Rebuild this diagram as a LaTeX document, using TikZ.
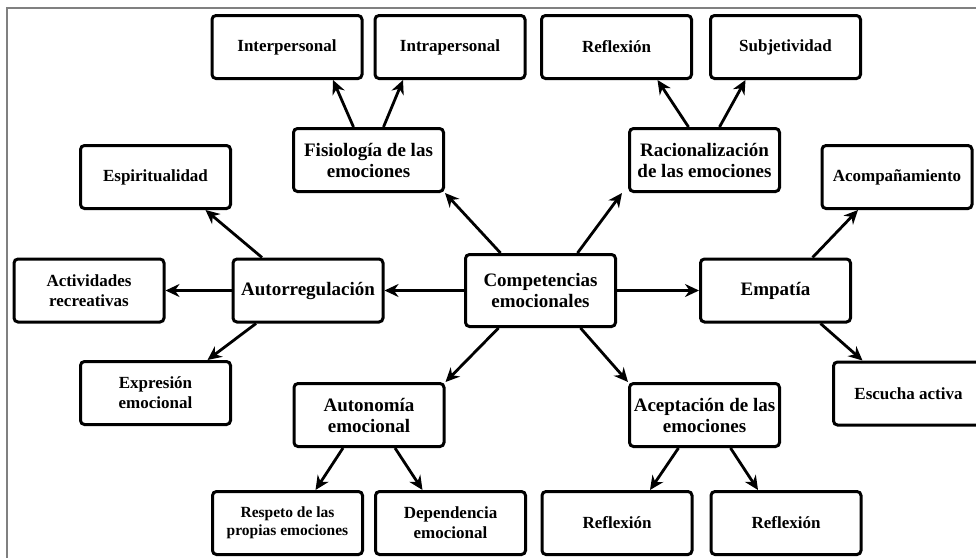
\documentclass[tikz,border=0pt]{standalone}
\usepackage{fontspec}
\setmainfont{Liberation Serif}
\usetikzlibrary{arrows.meta,positioning}

\begin{document}
\begin{tikzpicture}[x=1pt,y=-1pt,
box/.style={draw,line width=3pt,rounded corners=4pt,align=center,inner sep=2pt,
  minimum width=150pt,minimum height=63pt,font=\bfseries\fontsize{17}{20}\selectfont},
main/.style={box,font=\bfseries\fontsize{19}{21}\selectfont},
small/.style={box,font=\bfseries\fontsize{15.5}{18}\selectfont},
link/.style={-{Stealth[length=14pt,width=13pt]},line width=2.8pt}]
\useasboundingbox (0,0) rectangle (976,557);
\clip (0,0) rectangle (976,557);
\draw[gray,line width=1.5pt] (7,560) -- (7,8) -- (980,8);

\node[main,minimum height=72pt] (comp) at (540.5,290.5) {Competencias\\emocionales};
\node[main] (fisio) at (368.5,160) {Fisiología de las\\emociones};
\node[main] (racio) at (704.5,160) {Racionalización\\de las emociones};
\node[main] (autor) at (308,290.5) {Autorregulación};
\node[main] (empat) at (775.5,290.5) {Empatía};
\node[main] (auton) at (369,415) {Autonomía\\emocional};
\node[main] (acept) at (704.5,415) {Aceptación de las\\emociones};

\node[box] (interp) at (287,47) {Interpersonal};
\node[box] (intra) at (450,47) {Intrapersonal};
\node[box] (refla) at (616.5,47) {Reflexión};
\node[box] (subj) at (785.5,47) {Subjetividad};
\node[box] (espir) at (155.5,177) {Espiritualidad};
\node[box] (acomp) at (897,177) {Acompañamiento};
\node[box] (activ) at (89,290.5) {Actividades\\recreativas};
\node[box] (expre) at (155.5,393) {Expresión\\emocional};
\node[box] (escu) at (908.5,393.5) {Escucha activa};
\node[small] (resp) at (287.5,523) {Respeto de las\\propias emociones};
\node[box] (depen) at (450.5,523) {Dependencia\\emocional};
\node[box] (reflb) at (617,523) {Reflexión};
\node[box] (reflc) at (786,523) {Reflexión};

% desde el centro
\draw[link] (comp.west) -- (autor.east);
\draw[link] (comp.east) -- (empat.west);
\draw[link] ([xshift=-40pt]comp.north) -- (fisio.south east);
\draw[link] ([xshift=37pt]comp.north) -- ([xshift=-6pt]racio.south west);
\draw[link] ([xshift=-42pt]comp.south) -- (auton.north east);
\draw[link] ([xshift=40pt]comp.south) -- (acept.north west);

% segundo nivel
\draw[link] ([xshift=-15pt]fisio.north) -- ([xshift=46pt]interp.south);
\draw[link] ([xshift=15pt]fisio.north) -- ([xshift=-47pt]intra.south);
\draw[link] ([xshift=-16pt]racio.north) -- ([xshift=41pt]refla.south);
\draw[link] ([xshift=15pt]racio.north) -- ([xshift=-40pt]subj.south);
\draw[link] ([xshift=-46pt]autor.north) -- ([xshift=50pt]espir.south);
\draw[link] (autor.west) -- (activ.east);
\draw[link] ([xshift=-52pt]autor.south) -- ([xshift=52pt]expre.north);
\draw[link] ([xshift=37pt]empat.north) -- ([xshift=-39pt]acomp.south);
\draw[link] ([xshift=45pt]empat.south) -- ([xshift=-46pt]escu.north);
\draw[link] ([xshift=-26pt]auton.south) -- ([xshift=28pt]resp.north);
\draw[link] ([xshift=26pt]auton.south) -- ([xshift=-28pt]depen.north);
\draw[link] ([xshift=-26pt]acept.south) -- ([xshift=33pt]reflb.north);
\draw[link] ([xshift=26pt]acept.south) -- ([xshift=-28pt]reflc.north);
\end{tikzpicture}
\end{document}
